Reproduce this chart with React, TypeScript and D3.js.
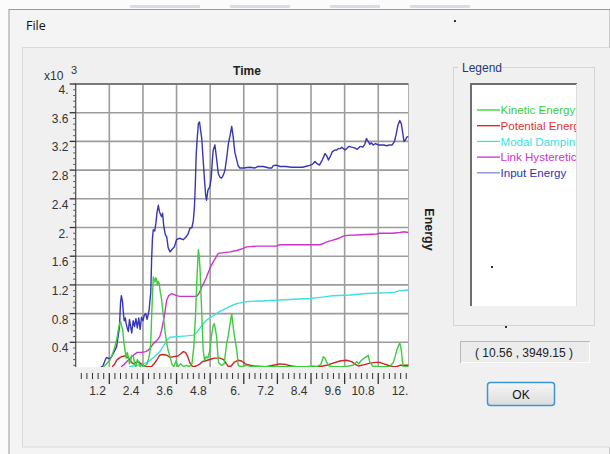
import React from "react";
import * as d3 from "d3";

type Pt = [number, number];

const seriesNames = ["Kinetic Energy", "Potential Energy", "Modal Damping", "Link Hysteretic", "Input Energy"];
const seriesColors = ["#3ccc3c", "#cc2222", "#3ee0e0", "#cc33cc", "#3636b8"];
const legendLineColors = ["#3ccc3c", "#cc2222", "#3ee0e0", "#cc33cc", "#8888cc"];
const legendTextColors = ["#3ccc3c", "#dd3333", "#3ee0e0", "#cc33cc", "#3333aa"];

const xTickValues = [1.2, 2.4, 3.6, 4.8, 6, 7.2, 8.4, 9.6, 10.8, 12];
const xTickLabels = ["1.2", "2.4", "3.6", "4.8", "6.", "7.2", "8.4", "9.6", "10.8", "12."];
const yTickValues = [0.4, 0.8, 1.2, 1.6, 2, 2.4, 2.8, 3.2, 3.6, 4];
const yTickLabels = ["0.4", "0.8", "1.2", "1.6", "2.", "2.4", "2.8", "3.2", "3.6", "4."];

const kinetic: Pt[] = [[1.0,0.06],[1.1,0.1],[1.22,0.15],[1.3,0.22],[1.4,0.34],[1.47,0.45],[1.52,0.57],[1.56,0.65],[1.6,0.69],[1.64,0.62],[1.68,0.57],[1.72,0.4],[1.76,0.29],[1.8,0.18],[1.84,0.26],[1.88,0.2],[1.92,0.1],[1.96,0.14],[2.0,0.22],[2.06,0.2],[2.1,0.1],[2.15,0.06],[2.2,0.16],[2.25,0.12],[2.3,0.06],[2.38,0.1],[2.45,0.06],[2.55,0.1],[2.62,0.2],[2.66,0.3],[2.69,0.5],[2.71,0.76],[2.74,1.05],[2.77,1.31],[2.8,1.28],[2.83,1.24],[2.86,1.3],[2.89,1.27],[2.92,1.2],[2.95,1.25],[2.98,1.22],[3.02,1.1],[3.07,0.99],[3.13,0.76],[3.19,0.55],[3.25,0.39],[3.31,0.27],[3.37,0.2],[3.43,0.1],[3.5,0.06],[3.58,0.14],[3.65,0.06],[3.75,0.1],[3.85,0.06],[3.95,0.08],[4.05,0.06],[4.15,0.1],[4.22,0.35],[4.28,0.8],[4.32,1.22],[4.36,1.55],[4.38,1.69],[4.41,1.6],[4.44,1.41],[4.48,1.0],[4.51,0.7],[4.55,0.29],[4.6,0.15],[4.66,0.2],[4.72,0.18],[4.79,0.29],[4.85,0.5],[4.91,0.64],[4.95,0.66],[5.0,0.55],[5.03,0.48],[5.07,0.25],[5.1,0.12],[5.2,0.08],[5.3,0.1],[5.39,0.39],[5.45,0.5],[5.51,0.66],[5.57,0.8],[5.62,0.62],[5.68,0.45],[5.75,0.29],[5.8,0.08],[5.9,0.06],[6.1,0.08],[6.3,0.06],[6.5,0.07],[6.8,0.06],[7.5,0.06],[8.2,0.06],[8.5,0.07],[8.6,0.06],[8.75,0.09],[8.84,0.2],[8.9,0.18],[8.96,0.12],[9.05,0.07],[9.2,0.06],[9.6,0.06],[9.9,0.08],[10.03,0.13],[10.1,0.1],[10.2,0.15],[10.3,0.18],[10.38,0.2],[10.44,0.22],[10.5,0.12],[10.6,0.07],[10.8,0.06],[11.2,0.06],[11.34,0.12],[11.4,0.2],[11.46,0.29],[11.52,0.35],[11.57,0.39],[11.62,0.3],[11.66,0.15],[11.69,0.06],[11.88,0.06]];

const potential: Pt[] = [[1.3,0.06],[1.38,0.09],[1.46,0.15],[1.55,0.18],[1.64,0.2],[1.75,0.21],[1.82,0.2],[1.9,0.17],[1.94,0.15],[2.0,0.12],[2.06,0.1],[2.15,0.12],[2.25,0.13],[2.33,0.1],[2.41,0.08],[2.53,0.06],[2.7,0.06],[2.8,0.1],[2.89,0.15],[3.0,0.22],[3.1,0.23],[3.25,0.22],[3.37,0.19],[3.5,0.2],[3.65,0.21],[3.75,0.24],[3.84,0.27],[3.92,0.26],[4.0,0.2],[4.08,0.11],[4.15,0.07],[4.2,0.06],[4.3,0.07],[4.44,0.1],[4.52,0.13],[4.61,0.14],[4.79,0.16],[4.95,0.18],[5.15,0.18],[5.28,0.16],[5.38,0.1],[5.45,0.06],[5.55,0.07],[5.65,0.12],[5.8,0.15],[5.92,0.14],[6.05,0.1],[6.22,0.08],[6.5,0.06],[6.8,0.06],[7.05,0.08],[7.29,0.1],[7.5,0.09],[7.7,0.07],[7.89,0.06],[8.36,0.06],[8.7,0.06],[8.96,0.08],[9.19,0.11],[9.43,0.14],[9.67,0.15],[9.85,0.13],[10.0,0.09],[10.09,0.07],[10.3,0.09],[10.5,0.11],[10.7,0.12],[10.86,0.12],[11.0,0.1],[11.15,0.08],[11.34,0.06],[11.45,0.06],[11.57,0.08],[11.88,0.08]];

const modal: Pt[] = [[1.9,0.06],[2.06,0.07],[2.2,0.08],[2.41,0.1],[2.55,0.12],[2.65,0.15],[2.75,0.18],[2.83,0.2],[2.92,0.24],[3.0,0.27],[3.1,0.33],[3.18,0.38],[3.25,0.43],[3.37,0.47],[3.6,0.48],[3.96,0.49],[4.2,0.5],[4.3,0.53],[4.44,0.6],[4.55,0.66],[4.67,0.71],[4.79,0.74],[4.91,0.77],[5.03,0.8],[5.15,0.83],[5.3,0.86],[5.45,0.89],[5.62,0.92],[5.75,0.94],[6.0,0.96],[6.22,0.97],[6.8,0.98],[7.29,0.99],[7.8,1.0],[8.36,1.01],[8.8,1.03],[9.19,1.05],[9.79,1.06],[10.38,1.08],[11.1,1.09],[11.4,1.1],[11.57,1.12],[11.88,1.13]];

const link: Pt[] = [[1.62,0.06],[1.75,0.1],[1.9,0.16],[2.0,0.2],[2.12,0.24],[2.2,0.26],[2.35,0.26],[2.5,0.27],[2.59,0.29],[2.68,0.33],[2.77,0.38],[2.85,0.41],[2.93,0.44],[3.0,0.48],[3.06,0.56],[3.13,0.69],[3.2,0.86],[3.25,0.99],[3.32,1.05],[3.43,1.08],[3.6,1.05],[3.72,1.04],[4.0,1.04],[4.32,1.04],[4.4,1.08],[4.5,1.17],[4.6,1.25],[4.67,1.31],[4.76,1.4],[4.85,1.48],[4.95,1.55],[5.03,1.6],[5.09,1.64],[5.3,1.65],[5.51,1.66],[5.75,1.68],[5.98,1.71],[6.1,1.73],[6.5,1.74],[7.17,1.74],[7.29,1.76],[8.0,1.76],[8.72,1.76],[8.85,1.78],[8.96,1.8],[9.15,1.82],[9.31,1.84],[9.45,1.86],[9.55,1.88],[9.7,1.89],[10.2,1.9],[10.74,1.91],[10.85,1.92],[11.3,1.92],[11.57,1.93],[11.7,1.94],[11.88,1.93]];

const input: Pt[] = [[0.9,0.06],[0.96,0.06],[1.05,0.15],[1.1,0.19],[1.2,0.17],[1.28,0.2],[1.36,0.26],[1.46,0.34],[1.52,0.5],[1.56,0.6],[1.6,0.95],[1.63,1.05],[1.67,0.97],[1.7,0.82],[1.73,0.7],[1.77,0.74],[1.8,0.66],[1.84,0.6],[1.88,0.55],[1.92,0.72],[1.96,0.62],[2.0,0.53],[2.05,0.7],[2.1,0.62],[2.15,0.73],[2.2,0.6],[2.25,0.74],[2.3,0.58],[2.35,0.75],[2.4,0.7],[2.45,0.78],[2.5,0.8],[2.55,0.72],[2.62,0.85],[2.68,1.1],[2.71,1.55],[2.74,1.85],[2.77,1.97],[2.82,1.95],[2.86,2.05],[2.9,2.2],[2.95,2.31],[2.99,2.22],[3.03,2.18],[3.07,2.15],[3.1,2.2],[3.15,2.0],[3.2,1.9],[3.25,1.87],[3.3,1.72],[3.37,1.66],[3.45,1.7],[3.52,1.73],[3.6,1.83],[3.7,1.85],[3.84,1.83],[3.92,1.86],[4.0,1.9],[4.08,1.99],[4.15,2.0],[4.2,2.1],[4.24,2.3],[4.27,2.6],[4.3,3.0],[4.33,3.2],[4.38,3.45],[4.42,3.47],[4.46,3.35],[4.5,3.24],[4.55,2.94],[4.6,2.65],[4.64,2.45],[4.67,2.38],[4.72,2.52],[4.79,2.57],[4.84,2.7],[4.88,2.95],[4.91,3.08],[4.97,3.15],[5.02,2.99],[5.09,2.75],[5.15,2.7],[5.21,2.69],[5.27,2.73],[5.33,2.8],[5.4,3.0],[5.45,3.17],[5.52,3.3],[5.57,3.41],[5.62,3.27],[5.68,3.05],[5.75,2.94],[5.8,2.86],[5.86,2.83],[6.0,2.83],[6.2,2.84],[6.4,2.83],[6.5,2.85],[6.7,2.85],[6.9,2.83],[7.0,2.83],[7.05,2.86],[7.15,2.87],[7.3,2.85],[7.5,2.85],[7.7,2.84],[7.9,2.84],[8.1,2.84],[8.3,2.86],[8.45,2.88],[8.54,2.92],[8.62,2.89],[8.7,2.87],[8.8,2.94],[8.9,3.03],[8.96,3.0],[9.02,2.94],[9.1,3.0],[9.15,3.05],[9.25,3.08],[9.32,3.08],[9.38,3.1],[9.45,3.1],[9.5,3.12],[9.55,3.1],[9.62,3.08],[9.7,3.11],[9.75,3.13],[9.85,3.12],[9.95,3.11],[10.05,3.09],[10.15,3.13],[10.25,3.12],[10.32,3.16],[10.38,3.24],[10.44,3.2],[10.5,3.16],[10.55,3.18],[10.62,3.15],[10.7,3.17],[10.8,3.15],[10.9,3.15],[11.0,3.15],[11.1,3.14],[11.2,3.15],[11.3,3.15],[11.38,3.2],[11.44,3.3],[11.5,3.42],[11.57,3.49],[11.62,3.45],[11.67,3.33],[11.72,3.2],[11.77,3.22],[11.82,3.26],[11.88,3.27]];

const allSeries: Pt[][] = [kinetic, potential, modal, link, input];
const exponentText = "3";
const coordText = "( 10.56 , 3949.15 )";

const PL = 75.7, PR = 408.5, PT = 84, PB = 367;
const FONT = "'Liberation Sans', Arial, sans-serif";

export default function App() {
  const x = d3.scaleLinear().domain([0, 11.88]).range([PL, PR]);
  const y = d3.scaleLinear().domain([0.056, 4]).range([PB, PT]);
  const line = d3.line<Pt>().x((d) => x(d[0])).y((d) => y(d[1]));
  const minorX = d3.range(0, 11.85, 0.2).filter((v) => Math.abs(v / 1.2 - Math.round(v / 1.2)) > 0.01);
  const minorY = d3.range(0.08, 4, 0.08).filter((v) => Math.abs(v / 0.4 - Math.round(v / 0.4)) > 0.01);
  const order = [4, 3, 2, 1, 0];

  return (
    <svg width={610} height={454} style={{ position: "absolute", left: 0, top: 0, display: "block" }}>
      <defs>
        <clipPath id="plotclip">
          <rect x={PL} y={PT} width={PR - PL} height={PB - PT} />
        </clipPath>
        <clipPath id="listclip">
          <rect x={471} y={85} width={105} height={220} />
        </clipPath>
        <linearGradient id="okgrad" x1="0" y1="0" x2="0" y2="1">
          <stop offset="0" stopColor="#f6f6f6" />
          <stop offset="1" stopColor="#dcdcdc" />
        </linearGradient>
      </defs>
      <rect x={0} y={0} width={610} height={454} fill="#fbfbfb" />
      <rect x={130} y={5} width={70} height={3} fill="#c8c8dc" opacity={0.6} />
      <rect x={230} y={5} width={60} height={3} fill="#c8c8dc" opacity={0.6} />
      <rect x={330} y={5} width={50} height={3} fill="#c8c8dc" opacity={0.6} />
      <rect x={410} y={5} width={60} height={3} fill="#c8c8dc" opacity={0.6} />
      <rect x={9} y={9.5} width={601} height={445} fill="#f4f4f4" stroke="#9a9a9a" strokeWidth={1} />
      <rect x={22.5} y={47.5} width={588} height={399.5} fill="#f0f0f0" stroke="#d9d9d9" strokeWidth={1} />
      <text x={26} y={30} fontFamily="'Open Sans', sans-serif" fontSize={12.5} fill="#111">File</text>
      <rect x={454} y={20} width={2} height={2} fill="#333" />

      <rect x={PL} y={PT} width={PR - PL} height={PB - PT} fill="#ffffff" />
      {xTickValues.filter((v) => x(v) < PR - 1).map((v) => (
        <line key={"gx" + v} x1={x(v)} x2={x(v)} y1={PT} y2={PB} stroke="#9c9c9c" strokeWidth={1.6} />
      ))}
      {yTickValues.filter((v) => v < 3.99).map((v) => (
        <line key={"gy" + v} x1={PL} x2={PR} y1={y(v)} y2={y(v)} stroke="#9c9c9c" strokeWidth={1.6} />
      ))}
      <line x1={PR} x2={PR} y1={PT} y2={PB} stroke="#b4b4b4" strokeWidth={1} />
      <g clipPath="url(#plotclip)" fill="none" strokeWidth={1.4} strokeLinejoin="round">
        {order.map((i) => (
          <path key={seriesNames[i]} d={line(allSeries[i]) || ""} stroke={seriesColors[i]} />
        ))}
      </g>
      <line x1={PL - 1} x2={PR} y1={PT} y2={PT} stroke="#7a7a7a" strokeWidth={2} />
      <line x1={PL} x2={PL} y1={PT} y2={PB} stroke="#555" strokeWidth={1.3} />

      {yTickValues.map((v, i) => (
        <g key={"yt" + v}>
          <line x1={PL - 6} x2={PL} y1={y(v)} y2={y(v)} stroke="#333" strokeWidth={1.3} />
          <text x={68.5} y={y(v) + 10} textAnchor="end" fontFamily={FONT} fontSize={12} fill="#333">{yTickLabels[i]}</text>
        </g>
      ))}
      {minorY.map((v) => (
        <line key={"ym" + v} x1={PL - 2.5} x2={PL} y1={y(v)} y2={y(v)} stroke="#555" strokeWidth={1} />
      ))}
      <text x={44} y={80} fontFamily={FONT} fontSize={12} fill="#333">x10</text>
      <text x={71} y={74} fontFamily={FONT} fontSize={11} fill="#333">{exponentText}</text>

      {xTickValues.filter((v) => x(v) < PR).map((v) => (
        <line key={"xt" + v} x1={x(v)} x2={x(v)} y1={373} y2={384} stroke="#333" strokeWidth={1.3} />
      ))}
      {minorX.map((v) => (
        <line key={"xm" + v} x1={x(v)} x2={x(v)} y1={373} y2={379} stroke="#333" strokeWidth={1} />
      ))}
      {xTickValues.map((v, i) => (
        <text key={"xl" + v} x={x(v) - 3.5} y={395} textAnchor="end" fontFamily={FONT} fontSize={12} fill="#333">{xTickLabels[i]}</text>
      ))}

      <text x={247} y={75} textAnchor="middle" fontFamily={FONT} fontSize={12} fontWeight="bold" fill="#222">Time</text>
      <text transform="translate(425,229.5) rotate(90)" textAnchor="middle" fontFamily={FONT} fontSize={12.5} fontWeight="bold" fill="#222">Energy</text>

      <rect x={453.5} y={67.5} width={141} height={258} fill="none" stroke="#d4d4d4" strokeWidth={1} />
      <rect x={458} y={62} width={42} height={10} fill="#f0f0f0" />
      <text x={462} y={72} fontFamily={FONT} fontSize={12} fill="#1f3a78">Legend</text>
      <rect x={470} y={83} width={107} height={223} fill="#ffffff" />
      <line x1={470} x2={577} y1={84} y2={84} stroke="#6e6e6e" strokeWidth={2} />
      <line x1={471} x2={471} y1={83} y2={306} stroke="#6e6e6e" strokeWidth={2} />
      <line x1={576.5} x2={576.5} y1={84} y2={306} stroke="#dddddd" strokeWidth={1} />
      <g clipPath="url(#listclip)">
        {seriesNames.map((n, i) => {
          const yy = 110 + i * 15.7;
          return (
            <g key={"lg" + n}>
              <line x1={477} x2={500} y1={yy} y2={yy} stroke={legendLineColors[i]} strokeWidth={1.3} />
              <text x={500.5} y={yy + 4.3} fontFamily={FONT} fontSize={11.6} fill={legendTextColors[i]}>{n}</text>
            </g>
          );
        })}
      </g>
      <rect x={491} y={266} width={2} height={2} fill="#333" />
      <rect x={505} y={326} width={2} height={2} fill="#333" />

      <rect x={460.5} y={341.5} width={129} height={21} fill="#ececec" stroke="#b8b8b8" strokeWidth={1} />
      <line x1={461} x2={590} y1={362.5} y2={362.5} stroke="#ffffff" strokeWidth={1} />
      <line x1={589.5} x2={589.5} y1={342} y2={363} stroke="#ffffff" strokeWidth={1} />
      <text x={524} y={357} textAnchor="middle" fontFamily={FONT} fontSize={12} fill="#222">{coordText}</text>

      <rect x={487.5} y={382.5} width={67} height={23} rx={3} fill="url(#okgrad)" stroke="#3c96d6" strokeWidth={1.5} />
      <text x={521} y={398.5} textAnchor="middle" fontFamily={FONT} fontSize={12} fill="#111">OK</text>
    </svg>
  );
}
